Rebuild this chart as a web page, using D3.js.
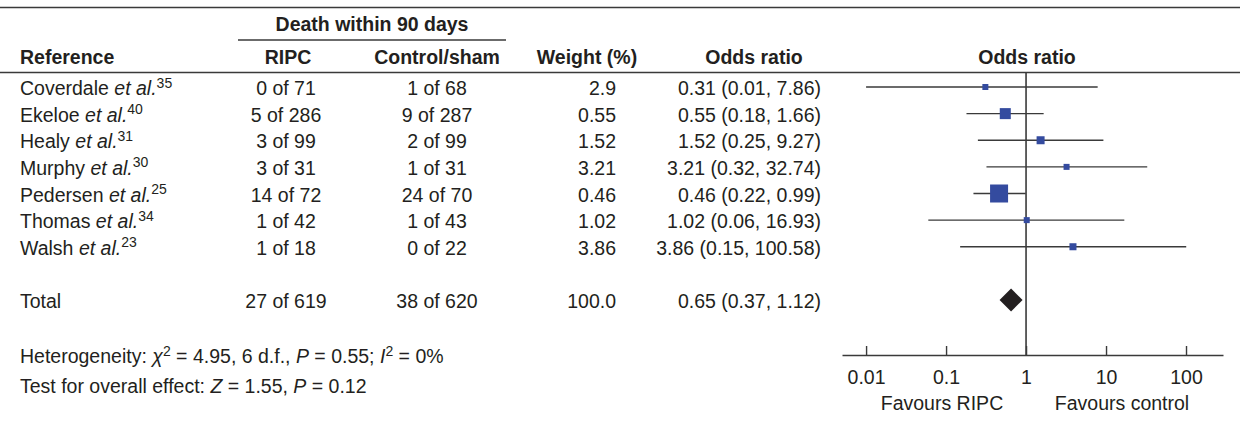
<!DOCTYPE html>
<html>
<head>
<meta charset="utf-8">
<script src="https://cdn.jsdelivr.net/npm/d3@7"></script>
<style>
  html, body { margin: 0; padding: 0; background: #fff; }
  svg { display: block; font-family: "Liberation Sans", Arial, Helvetica, sans-serif; }
  .txt { font-size: 19.5px; fill: #231f20; }
  .hdr { font-size: 19.5px; font-weight: bold; fill: #231f20; }
</style>
</head>
<body>
<svg id="chart" width="1240" height="421"></svg>
<script>
// Study data: deaths within 90 days, RIPC vs control/sham
const studies    = ["Coverdale", "Ekeloe", "Healy", "Murphy", "Pedersen", "Thomas", "Walsh"];
const refNumbers = ["35", "40", "31", "30", "25", "34", "23"];
const ripcEvents = [0, 5, 3, 3, 14, 1, 1];
const ripcTotals = [71, 286, 99, 31, 72, 42, 18];
const ctrlEvents = [1, 9, 2, 1, 24, 1, 0];
const ctrlTotals = [68, 287, 99, 31, 70, 43, 22];
const weightPct  = [2.9, 0.55, 1.52, 3.21, 0.46, 1.02, 3.86];
const oddsRatio  = [0.31, 0.55, 1.52, 3.21, 0.46, 1.02, 3.86];
const ciLower    = [0.01, 0.18, 0.25, 0.32, 0.22, 0.06, 0.15];
const ciUpper    = [7.86, 1.66, 9.27, 32.74, 0.99, 16.93, 100.58];
// relative study weight that sets each box's area
const boxWeight  = [5.4, 18.2, 9.6, 5.4, 48.6, 5.4, 7.4];

// Pooled result
const totalRipc   = [27, 619];
const totalCtrl   = [38, 620];
const totalWeight = 100.0;
const totalOR     = 0.65;
const totalCI     = [0.37, 1.12];

// Axis
const axisTicks  = [0.01, 0.1, 1, 10, 100];
const axisExtent = [0.005, 290];

const svg = d3.select("#chart");
const ink = "#231f20";
const lineInk = "#3a3a3a";

// Row positions (index 7 is the blank spacer row before the total)
const rowY = d3.scaleLinear().domain([0, 8]).range([87, 300]);
const textDy = 8;

// Log scale for the odds ratio panel
const x = d3.scaleLog().domain(axisExtent).range([842, 1223]);
const boxSide = d3.scaleSqrt().domain([0, d3.max(boxWeight)]).range([0, 18]);

// ---- rules ----
const rule = (x1, x2, y, w) => svg.append("line")
  .attr("x1", x1).attr("x2", x2).attr("y1", y).attr("y2", y)
  .attr("stroke", lineInk).attr("stroke-width", w);
rule(0, 1240, 7.5, 1.6);
rule(238, 506, 40, 1.3);
rule(0, 1240, 72.5, 1.6);

// ---- headers ----
const hdr = (t, xp, y, anchor) => svg.append("text").attr("class", "hdr")
  .attr("x", xp).attr("y", y).attr("text-anchor", anchor).text(t);
hdr("Death within 90 days", 372, 31, "middle");
hdr("Reference", 20, 64, "start");
hdr("RIPC", 288, 64, "middle");
hdr("Control/sham", 437, 64, "middle");
hdr("Weight (%)", 587, 64, "middle");
hdr("Odds ratio", 754, 64, "middle");
hdr("Odds ratio", 1027, 64, "middle");

// ---- table rows ----
const fmtOR = (o, lo, hi) => `${o.toFixed(2)} (${lo.toFixed(2)}, ${hi.toFixed(2)})`;
const rows = studies.map((s, i) => ({
  name: s, ref: refNumbers[i],
  ripc: `${ripcEvents[i]} of ${ripcTotals[i]}`,
  ctrl: `${ctrlEvents[i]} of ${ctrlTotals[i]}`,
  weight: String(weightPct[i]),
  or: fmtOR(oddsRatio[i], ciLower[i], ciUpper[i]),
  y: rowY(i)
}));

const rowG = svg.append("g").selectAll("g").data(rows).join("g");

const nameText = rowG.append("text").attr("class", "txt")
  .attr("x", 20).attr("y", d => d.y + textDy);
nameText.append("tspan").text(d => d.name + " ");
nameText.append("tspan").attr("font-style", "italic").text("et al.");
nameText.append("tspan").attr("font-size", "14px").attr("dy", -7.5).text(d => d.ref);

rowG.append("text").attr("class", "txt").attr("x", 286).attr("y", d => d.y + textDy)
  .attr("text-anchor", "middle").text(d => d.ripc);
rowG.append("text").attr("class", "txt").attr("x", 437).attr("y", d => d.y + textDy)
  .attr("text-anchor", "middle").text(d => d.ctrl);
rowG.append("text").attr("class", "txt").attr("x", 616).attr("y", d => d.y + textDy)
  .attr("text-anchor", "end").text(d => d.weight);
rowG.append("text").attr("class", "txt").attr("x", 821).attr("y", d => d.y + textDy)
  .attr("text-anchor", "end").text(d => d.or);

// total row
const ty = rowY(8) + textDy;
svg.append("text").attr("class", "txt").attr("x", 20).attr("y", ty).text("Total");
svg.append("text").attr("class", "txt").attr("x", 286).attr("y", ty).attr("text-anchor", "middle")
  .text(`${totalRipc[0]} of ${totalRipc[1]}`);
svg.append("text").attr("class", "txt").attr("x", 437).attr("y", ty).attr("text-anchor", "middle")
  .text(`${totalCtrl[0]} of ${totalCtrl[1]}`);
svg.append("text").attr("class", "txt").attr("x", 616).attr("y", ty).attr("text-anchor", "end")
  .text(totalWeight.toFixed(1));
svg.append("text").attr("class", "txt").attr("x", 821).attr("y", ty).attr("text-anchor", "end")
  .text(fmtOR(totalOR, totalCI[0], totalCI[1]));

// ---- forest panel ----
const axisY = 355;

// line of no effect
svg.append("line").attr("x1", x(1)).attr("x2", x(1)).attr("y1", 72.5).attr("y2", axisY)
  .attr("stroke", lineInk).attr("stroke-width", 1.6);

const plotG = svg.append("g").selectAll("g").data(rows).join("g");
plotG.append("line")
  .attr("x1", (d, i) => x(ciLower[i])).attr("x2", (d, i) => x(ciUpper[i]))
  .attr("y1", d => d.y).attr("y2", d => d.y)
  .attr("stroke", lineInk).attr("stroke-width", 1.4);
plotG.append("rect")
  .attr("x", (d, i) => x(oddsRatio[i]) - boxSide(boxWeight[i]) / 2)
  .attr("y", (d, i) => d.y - boxSide(boxWeight[i]) / 2)
  .attr("width", (d, i) => boxSide(boxWeight[i]))
  .attr("height", (d, i) => boxSide(boxWeight[i]))
  .attr("fill", "#344b9f");

// pooled estimate diamond
const dHalf = 11.5;
const cx = x(totalOR), cy = rowY(8);
svg.append("path")
  .attr("d", `M${cx - dHalf},${cy} L${cx},${cy - dHalf} L${cx + dHalf},${cy} L${cx},${cy + dHalf} Z`)
  .attr("fill", ink);

// axis
const axis = d3.axisBottom(x).tickValues(axisTicks).tickSize(0).tickSizeOuter(0)
  .tickFormat(d => String(d));
const axG = svg.append("g").attr("transform", `translate(0,${axisY})`).call(axis);
axG.select(".domain").attr("stroke", lineInk).attr("stroke-width", 1.4);
axG.selectAll(".tick line").attr("y2", -9).attr("stroke", lineInk).attr("stroke-width", 1.4);
axG.selectAll(".tick text").attr("y", 29).attr("dy", 0)
  .attr("font-size", "19.5px").attr("fill", ink)
  .attr("font-family", "'Liberation Sans', Arial, Helvetica, sans-serif");

svg.append("text").attr("class", "txt").attr("x", 942).attr("y", 410).attr("text-anchor", "middle")
  .text("Favours RIPC");
svg.append("text").attr("class", "txt").attr("x", 1122).attr("y", 410).attr("text-anchor", "middle")
  .text("Favours control");

// ---- footnotes ----
const het = svg.append("text").attr("class", "txt").attr("x", 20).attr("y", 363);
het.append("tspan").text("Heterogeneity: ");
het.append("tspan").attr("font-style", "italic").text("χ");
het.append("tspan").attr("font-size", "14px").attr("dy", -7).text("2");
het.append("tspan").attr("dy", 7).text(" = 4.95, 6 d.f., ");
het.append("tspan").attr("font-style", "italic").text("P");
het.append("tspan").text(" = 0.55; ");
het.append("tspan").attr("font-style", "italic").text("I");
het.append("tspan").attr("font-size", "14px").attr("dy", -7).text("2");
het.append("tspan").attr("dy", 7).text(" = 0%");

const eff = svg.append("text").attr("class", "txt").attr("x", 20).attr("y", 393);
eff.append("tspan").text("Test for overall effect: ");
eff.append("tspan").attr("font-style", "italic").text("Z");
eff.append("tspan").text(" = 1.55, ");
eff.append("tspan").attr("font-style", "italic").text("P");
eff.append("tspan").text(" = 0.12");
</script>
</body>
</html>
